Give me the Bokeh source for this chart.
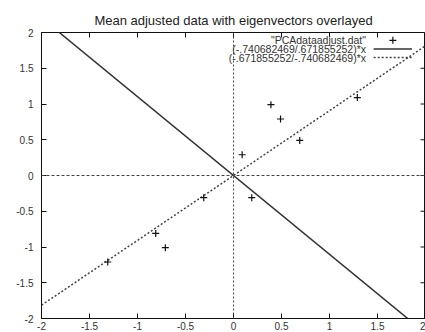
from bokeh.plotting import figure
from bokeh.models import Span, LinearAxis, FixedTicker, Range1d, Label
from bokeh.embed import file_html
from bokeh.resources import INLINE

# Data (mean adjusted)
x_data = [0.69, -1.31, 0.39, 0.09, 1.29, 0.49, 0.19, -0.81, -0.31, -0.71]
y_data = [0.49, -1.21, 0.99, 0.29, 1.09, 0.79, -0.31, -0.81, -0.31, -1.01]

# Eigenvector components
ev1 = (-0.740682469, 0.671855252)
ev2 = (-0.671855252, -0.740682469)
line_x = [-2.0, 2.0]

ticks = [-2, -1.5, -1, -0.5, 0, 0.5, 1, 1.5, 2]
tick_labels = ["-2", "-1.5", "-1", "-0.5", "0", "0.5", "1", "1.5", "2"]

title = "Mean adjusted data with eigenvectors overlayed"
legend_labels = ['"PCAdataadjust.dat"',
                 "(-.740682469/.671855252)*x",
                 "(-.671855252/-.740682469)*x"]

FONT = "Liberation Sans"
TXT = "#333333"
FRAME_W, FRAME_H = 384, 287

p = figure(width=425, height=332, output_backend="svg", toolbar_location=None,
           x_range=Range1d(-2, 2), y_range=Range1d(-2, 2),
           min_border_left=41, min_border_top=32, min_border_right=0,
           min_border_bottom=13, x_axis_location=None, y_axis_location=None)
p.title.text = title
p.title.align = "center"
p.title.text_font = FONT
p.title.text_font_size = "13px"
p.title.text_font_style = "normal"
p.title.text_color = "#222222"
p.title.standoff = 9
p.outline_line_color = "#111111"
p.outline_line_width = 1
p.xgrid.visible = False
p.ygrid.visible = False

over = {t: l for t, l in zip(ticks, tick_labels)}

def make_axis(standoff):
    ax = LinearAxis(ticker=FixedTicker(ticks=ticks), major_label_overrides=over)
    ax.major_tick_in = 5
    ax.major_tick_out = 0
    ax.minor_tick_line_color = None
    ax.axis_line_color = "#111111"
    ax.major_tick_line_color = "#111111"
    ax.major_label_text_font = FONT
    ax.major_label_text_font_size = "10px"
    ax.major_label_text_color = TXT
    ax.major_label_standoff = standoff
    return ax

p.add_layout(make_axis(3), "below")
p.add_layout(make_axis(8), "left")

# mirrored inward ticks on top and right
tx = 4.0 * 5 / FRAME_W
ty = 4.0 * 5 / FRAME_H
p.segment(x0=ticks, y0=[2] * len(ticks), x1=ticks, y1=[2 - ty] * len(ticks),
          line_color="#111111", line_width=1)
p.segment(x0=[2] * len(ticks), y0=ticks, x1=[2 - tx] * len(ticks), y1=ticks,
          line_color="#111111", line_width=1)

# zero axes
p.add_layout(Span(location=0, dimension="height", line_color="#444444",
                  line_dash="2 2", line_width=1))
p.add_layout(Span(location=0, dimension="width", line_color="#444444",
                  line_dash="3 2", line_width=1))

# eigenvector lines
s1 = ev1[0] / ev1[1]
s2 = ev2[0] / ev2[1]
p.line(line_x, [s1 * v for v in line_x], line_color="#333333", line_width=1.5)
p.line(line_x, [s2 * v for v in line_x], line_color="#444444", line_width=1.5,
       line_dash="2 2")

# data points
p.scatter(x_data, y_data, marker="cross", size=7, line_color="#111111",
          line_width=1.2)

# legend (gnuplot style: text then sample)
leg_text_x = 1.38
leg_s0, leg_s1 = 1.46, 1.86
leg_y = [1.89, 1.77, 1.65]
for lab, yy in zip(legend_labels, leg_y):
    p.add_layout(Label(x=leg_text_x, y=yy, text=lab, text_align="right",
                       text_baseline="middle", text_font=FONT,
                       text_font_size="10.5px", text_color=TXT))
p.scatter([(leg_s0 + leg_s1) / 2], [leg_y[0]], marker="cross", size=7,
          line_color="#111111", line_width=1.2)
p.line([leg_s0, leg_s1], [leg_y[1], leg_y[1]], line_color="#333333", line_width=1.5)
p.line([leg_s0, leg_s1], [leg_y[2], leg_y[2]], line_color="#444444", line_width=1.5,
       line_dash="2 2")

open("out.html", "w").write(file_html(p, INLINE))
